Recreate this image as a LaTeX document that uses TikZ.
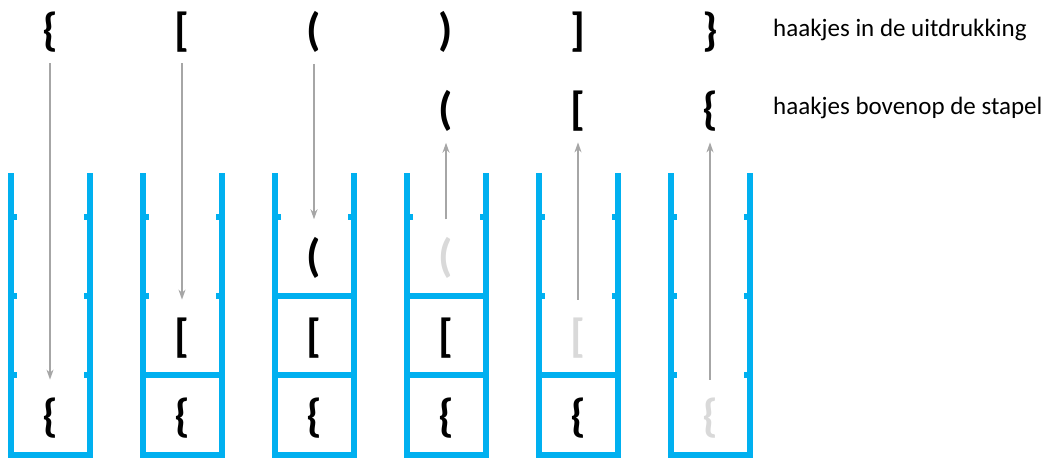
\documentclass[tikz,border=0pt]{standalone}
\usepackage{fontspec}
\setmainfont{Carlito}
\usetikzlibrary{arrows.meta}
\definecolor{stapelblauw}{HTML}{00B0F0}
\definecolor{pijlgrijs}{HTML}{A6A6A6}
\definecolor{weggrijs}{HTML}{D9D9D9}
\newfontfamily\haakfont{Carlito}[BoldFont={* Bold}]

\begin{document}
\begin{tikzpicture}[x=1pt, y=-1pt,
    haakje/.style={font=\haakfont\bfseries\fontsize{46}{46}\selectfont, inner sep=0pt},
    weg/.style={haakje, text=weggrijs},
    uitleg/.style={font=\fontsize{25}{25}\selectfont, anchor=west, inner sep=0pt},
    pijl/.style={pijlgrijs, line width=1.5pt, -{Stealth[length=10pt, width=7pt]}},
    wand/.style={stapelblauw, line width=6pt, line cap=butt, line join=miter}]
    \useasboundingbox (0,0) rectangle (1048,458);
    % stapels
    \foreach \cx in {50,182,314,446,578,710} {
        \draw[wand] (\cx-39.5,173) -- (\cx-39.5,455) -- (\cx+39.5,455) -- (\cx+39.5,173);
        \foreach \ty in {217,296,375} {
            \draw[wand] (\cx-39.5,\ty) -- (\cx-33.5,\ty);
            \draw[wand] (\cx+39.5,\ty) -- (\cx+33.5,\ty);
        }
    }
    \draw[wand] (142.5,375) -- (221.5,375);
    \draw[wand] (274.5,375) -- (353.5,375);
    \draw[wand] (274.5,296) -- (353.5,296);
    \draw[wand] (406.5,375) -- (485.5,375);
    \draw[wand] (406.5,296) -- (485.5,296);
    \draw[wand] (538.5,375) -- (617.5,375);
    % haakjes in de uitdrukking
    \node[haakje] (u1) at (50,32) {\{};
    \node[haakje] (u2) at (182,32) {[};
    \node[haakje] (u3) at (314,32) {(};
    \node[haakje] (u4) at (446,32) {)};
    \node[haakje] (u5) at (578,32) {]};
    \node[haakje] (u6) at (710,32) {\}};
    % haakjes bovenop de stapel
    \node[haakje] (b4) at (446,111) {(};
    \node[haakje] (b5) at (578,111) {[};
    \node[haakje] (b6) at (710,111) {\{};
    % inhoud van de stapels
    \node[haakje] (s1a) at (50,418) {\{};
    \node[haakje] (s2a) at (182,418) {\{};
    \node[haakje] (s2b) at (182,338) {[};
    \node[haakje] (s3a) at (314,418) {\{};
    \node[haakje] (s3b) at (314,338) {[};
    \node[haakje] (s3c) at (314,258) {(};
    \node[haakje] (s4a) at (446,418) {\{};
    \node[haakje] (s4b) at (446,338) {[};
    \node[weg] (s4c) at (446,258) {(};
    \node[haakje] (s5a) at (578,418) {\{};
    \node[weg] (s5b) at (578,338) {[};
    \node[weg] (s6a) at (710,418) {\{};
    % pijlen
    \draw[pijl, shorten <=11pt, shorten >=18pt] (u1) -- (s1a);
    \draw[pijl, shorten <=11pt, shorten >=18pt] (u2) -- (s2b);
    \draw[pijl, shorten <=11pt, shorten >=18pt] (u3) -- (s3c);
    \draw[pijl, shorten <=18pt, shorten >=11pt] (s4c) -- (b4);
    \draw[pijl, shorten <=18pt, shorten >=11pt] (s5b) -- (b5);
    \draw[pijl, shorten <=18pt, shorten >=11pt] (s6a) -- (b6);
    % uitleg
    \node[uitleg] (t1) at (773,30) {haakjes in de uitdrukking};
    \node[uitleg] (t2) at (773,108) {haakjes bovenop de stapel};
\end{tikzpicture}
\end{document}
